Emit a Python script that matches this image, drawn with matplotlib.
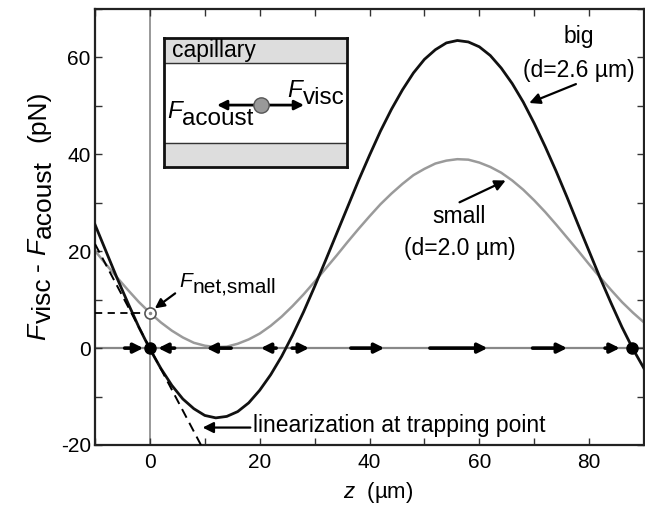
import matplotlib
matplotlib.use("Agg")
import matplotlib.pyplot as plt
from matplotlib.ticker import MultipleLocator

plt.rcParams['font.family'] = ['Liberation Sans', 'DejaVu Sans']
plt.rcParams['mathtext.fontset'] = 'custom'
plt.rcParams['mathtext.rm'] = 'Liberation Sans'
plt.rcParams['mathtext.it'] = 'Liberation Sans:italic'
plt.rcParams['axes.unicode_minus'] = False

# --- DADOS ---
z = [-10, -8, -6, -4, -2, 0, 2, 4, 6, 8, 10, 12, 14, 16, 18, 20, 22, 24, 26, 28,
     30, 32, 34, 36, 38, 40, 42, 44, 46, 48, 50, 52, 54, 56, 58, 60, 62, 64, 66,
     68, 70, 72, 74, 76, 78, 80, 82, 84, 86, 88, 90]
f_big = [25.5, 20.0, 14.5, 9.3, 4.3, -0.2, -4.2, -7.7, -10.5, -12.5, -13.9, -14.4,
         -14.1, -13.1, -11.3, -8.7, -5.5, -1.7, 2.7, 7.5, 12.7, 18.1, 23.6, 29.1,
         34.6, 39.8, 44.8, 49.3, 53.3, 56.8, 59.6, 61.6, 63.0, 63.5, 63.2, 62.2,
         60.4, 57.8, 54.6, 50.8, 46.4, 41.6, 36.5, 31.1, 25.5, 20.0, 14.5, 9.3,
         4.3, -0.2, -4.2]
f_small = [20.1, 17.3, 14.6, 12.0, 9.5, 7.3, 5.3, 3.6, 2.2, 1.1, 0.5, 0.2, 0.3,
           0.9, 1.8, 3.0, 4.6, 6.5, 8.7, 11.1, 13.7, 16.4, 19.1, 21.9, 24.6, 27.2,
           29.7, 31.9, 33.9, 35.7, 37.0, 38.1, 38.7, 39.0, 38.9, 38.3, 37.4, 36.2,
           34.6, 32.7, 30.5, 28.1, 25.5, 22.8, 20.1, 17.3, 14.6, 12.0, 9.5, 7.3, 5.3]

trap_z = [0.0, 87.9]
trap_f = [0.0, 0.0]
f_net_small = 7.3
lin_z = [-10, 10]
lin_f = [21.5, -21.5]

# setas de forca sobre o eixo z
arrow_tail = [-4.6, 4.5, 14.8, 23.0, 25.9, 36.6, 51.0, 69.7, 82.9]
arrow_head = [-1.2, 1.5, 10.3, 20.2, 29.0, 42.7, 61.5, 76.0, 85.6]


def chain_text(ax, xy, parts, size, xycoords='data', rot=0, color='black'):
    # escreve pedacos de texto em sequencia (subscrito do mesmo tamanho, so rebaixado)
    prev = None
    prev_drop = 0
    for txt, italic, drop, gap in parts:
        kw = dict(fontsize=size, style='italic' if italic else 'normal',
                  rotation=rot, rotation_mode='anchor', ha='left',
                  textcoords='offset points', color=color, annotation_clip=False)
        if prev is None:
            off = (drop, 0) if rot else (0, -drop)
            t = ax.annotate(txt, xy=xy, xycoords=xycoords, xytext=off,
                            va='baseline', **kw)
        else:
            d = drop - prev_drop
            if rot:
                t = ax.annotate(txt, xy=(1, 1), xycoords=prev, xytext=(d, gap),
                                va='bottom', **kw)
            else:
                t = ax.annotate(txt, xy=(1, 0), xycoords=prev, xytext=(gap, -d),
                                va='bottom', **kw)
        prev, prev_drop = t, drop
    return prev


fig = plt.figure(figsize=(6.45, 5.05), dpi=100)
ax = fig.add_axes([95 / 645, 1 - 445 / 505, 549 / 645, 436 / 505])

ax.axhline(0, color='#888888', lw=1.6, zorder=1)
ax.axvline(0, color='#888888', lw=1.2, zorder=1)

ax.plot(z, f_small, color='#9a9a9a', lw=1.8, zorder=2)
ax.plot(z, f_big, color='#111111', lw=2.0, zorder=3)
ax.plot(lin_z, lin_f, color='black', lw=1.4, ls=(0, (5, 3)), zorder=3)
ax.plot([-10, 0], [f_net_small, f_net_small], color='black', lw=1.3,
        ls=(0, (4, 3)), zorder=3)

for t0, t1 in zip(arrow_tail, arrow_head):
    ax.annotate('', xy=(t1, 0), xytext=(t0, 0),
                arrowprops=dict(arrowstyle='-|>', lw=2.6, color='black',
                                mutation_scale=14, shrinkA=0, shrinkB=0),
                zorder=4)

ax.plot(trap_z, trap_f, 'o', color='black', ms=8, zorder=5)
ax.plot([0], [f_net_small], 'o', mfc='white', mec='#555555', mew=1.2, ms=8, zorder=5)
ax.plot([0], [f_net_small], '.', color='#888888', ms=3, zorder=6)

# --- rotulos ---
ax.text(78.2, 63.0, "big", fontsize=16.5, ha='center', va='baseline')
ax.text(78.2, 55.9, "(d=2.6 µm)", fontsize=16.5, ha='center', va='baseline')
ax.annotate('', xy=(69.1, 50.6), xytext=(77.6, 54.5),
            arrowprops=dict(arrowstyle='-|>', lw=1.6, color='black',
                            mutation_scale=16, shrinkA=0, shrinkB=0))

ax.text(56.4, 25.8, "small", fontsize=16.5, ha='center', va='baseline')
ax.text(56.4, 19.2, "(d=2.0 µm)", fontsize=16.5, ha='center', va='baseline')
ax.annotate('', xy=(64.8, 34.6), xytext=(56.4, 30.1),
            arrowprops=dict(arrowstyle='-|>', lw=1.6, color='black',
                            mutation_scale=16, shrinkA=0, shrinkB=0))

chain_text(ax, (5.4, 12.6), [("F", True, 0, 0), ("net,small", False, 4, 0.5)], 15)
ax.annotate('', xy=(0.9, 8.2), xytext=(4.6, 11.3),
            arrowprops=dict(arrowstyle='-|>', lw=1.6, color='black',
                            mutation_scale=14, shrinkA=0, shrinkB=0))

ax.text(18.7, -17.3, "linearization at trapping point", fontsize=16.5,
        ha='left', va='baseline')
ax.annotate('', xy=(9.6, -16.4), xytext=(18.3, -16.4),
            arrowprops=dict(arrowstyle='-|>', lw=1.6, color='black',
                            mutation_scale=16, shrinkA=0, shrinkB=0))

# --- eixos ---
ax.set_xlim(-10, 90)
ax.set_ylim(-20, 70)
ax.xaxis.set_major_locator(MultipleLocator(20))
ax.xaxis.set_minor_locator(MultipleLocator(10))
ax.yaxis.set_major_locator(MultipleLocator(20))
ax.yaxis.set_minor_locator(MultipleLocator(10))
ax.tick_params(which='both', direction='in', top=True, right=True,
               length=5, width=1.0, color='#333333', labelsize=15)
ax.tick_params(axis='x', pad=6)
ax.tick_params(axis='y', pad=3)
for sp in ax.spines.values():
    sp.set_linewidth(1.6)
    sp.set_color('#222222')

ax.set_xlabel(r"$z$  (µm)", fontsize=16)
ax.xaxis.set_label_coords(0.515, -0.08)

chain_text(ax, (45 / 645, 1 - 340 / 505),
           [("F", True, 0, 0), ("visc", False, 4, 0.5), ("-", False, 0, 5),
            ("F", True, 0, 5), ("acoust", False, 4, 0.5), ("(pN)", False, 0, 13)],
           19, xycoords='figure fraction', rot=90)

# --- inset (capilar) ---
axi = fig.add_axes([164 / 645, 1 - 167 / 505, 183 / 645, 129 / 505])
axi.set_xlim(0, 1)
axi.set_ylim(0, 1)
axi.set_xticks([])
axi.set_yticks([])
axi.axhspan(0.806, 1, color='#dddddd', zorder=0)
axi.axhspan(0, 0.186, color='#dddddd', zorder=0)
axi.axhline(0.806, color='#333333', lw=1.0)
axi.axhline(0.186, color='#333333', lw=1.0)
for sp in axi.spines.values():
    sp.set_linewidth(2)
    sp.set_color('#111111')

axi.text(0.044, 0.853, "capillary", fontsize=16.5, ha='left', va='baseline')
for xend in [0.29, 0.765]:
    axi.annotate('', xy=(xend, 0.48), xytext=(0.53, 0.48),
                 arrowprops=dict(arrowstyle='-|>', lw=2.0, color='black',
                                 mutation_scale=14, shrinkA=0, shrinkB=0))
axi.plot([0.53], [0.48], 'o', color='#999999', mec='#555555', mew=1, ms=11, zorder=5)
chain_text(axi, (0.016, 0.38), [("F", True, 0, 0), ("acoust", False, 5, 0.5)], 17.5,
           xycoords='axes fraction')
chain_text(axi, (0.672, 0.543), [("F", True, 0, 0), ("visc", False, 5, 0.5)], 17.5,
           xycoords='axes fraction')

fig.savefig("out.png", dpi=100)
